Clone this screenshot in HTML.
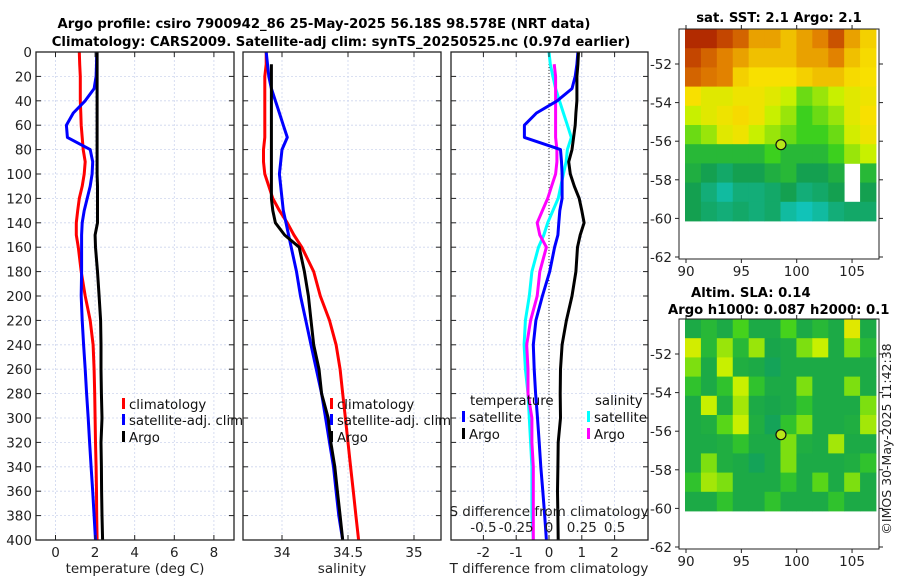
<!DOCTYPE html>
<html><head><meta charset="utf-8"><style>
body{margin:0;background:#fff;}
svg{display:block;font-family:"DejaVu Sans","Liberation Sans",sans-serif;}
</style></head><body>
<svg id="chart" width="900" height="580" viewBox="0 0 900 580" xmlns="http://www.w3.org/2000/svg">
<rect width="900" height="580" fill="#fff"/>
<g id="titles" font-weight="bold" font-size="13.2" fill="#000">
<text x="324" y="28" text-anchor="middle">Argo profile: csiro 7900942_86 25-May-2025 56.18S 98.578E (NRT data)</text>
<text x="341" y="46" text-anchor="middle">Climatology: CARS2009. Satellite-adj clim: synTS_20250525.nc (0.97d earlier)</text>
<text x="779" y="22" text-anchor="middle">sat. SST: 2.1 Argo: 2.1</text>
<text x="691" y="297">Altim. SLA: 0.14</text>
<text x="668" y="314">Argo h1000: 0.087 h2000: 0.1</text>
</g>
<g id="plots"></g>
<text x="0" y="0" font-size="12.5" fill="#222" text-anchor="middle" transform="translate(891,439) rotate(-90)">©IMOS 30-May-2025 11:42:38</text>
</svg>
<script>
const depths=[0,10,20,30,40,50,60,70,80,90,100,110,120,130,140,150,160,180,200,220,240,260,280,300,320,340,360,380,400];
const tempClim=[1.2,1.22,1.25,1.25,1.25,1.28,1.3,1.35,1.4,1.5,1.45,1.35,1.2,1.12,1.05,1.05,1.15,1.3,1.5,1.75,1.9,1.95,1.98,2.0,2.02,2.05,2.07,2.08,2.1];
const tempSat=[2.08,2.07,2.05,1.95,1.5,0.9,0.55,0.6,1.75,1.88,1.85,1.75,1.6,1.45,1.35,1.32,1.32,1.32,1.3,1.35,1.42,1.5,1.57,1.65,1.72,1.8,1.88,1.95,2.02];
const tempArgo=[2.1,2.1,2.1,2.1,2.1,2.1,2.1,2.1,2.1,2.1,2.1,2.12,2.12,2.12,2.12,2.0,2.02,2.12,2.2,2.28,2.3,2.3,2.32,2.35,2.3,2.32,2.33,2.35,2.38];
const salClim=[33.88,33.88,33.87,33.87,33.87,33.87,33.87,33.87,33.86,33.86,33.87,33.9,33.93,33.98,34.04,34.09,34.15,34.24,34.29,34.36,34.41,34.44,34.46,34.48,34.5,34.52,34.54,34.56,34.58];
const salSat=[33.88,33.89,33.9,33.92,33.95,33.98,34.01,34.04,34.0,33.99,33.98,33.99,34.0,34.01,34.03,34.05,34.07,34.11,34.14,34.18,34.22,34.26,34.3,34.33,34.36,34.39,34.41,34.43,34.46];
const salArgo=[null,33.92,33.92,33.92,33.92,33.92,33.92,33.92,33.92,33.92,33.92,33.92,33.92,33.93,33.95,34.02,34.13,34.17,34.2,34.22,34.24,34.28,34.3,34.35,34.37,34.4,34.42,34.44,34.46];
const depthTicks=[0,20,40,60,80,100,120,140,160,180,200,220,240,260,280,300,320,340,360,380,400];
const tempTicks=[0,2,4,6,8];
const salTicks=[34,34.5,35];
const tdiffTicks=[-2,-1,0,1,2];
const sdiffTicks=[-0.5,-0.25,0,0.25,0.5];
const sdiffLabels=["-0.5","-0.25","0","0.25","0.5"];
const latTicks=[-52,-54,-56,-58,-60,-62];
const lonTicks=[90,95,100,105];
const sstGrid=[
[0.95,0.95,0.9,0.85,0.75,0.75,0.7,0.75,0.8,0.88,0.75,0.65],
[0.9,0.85,0.8,0.75,0.7,0.7,0.7,0.75,0.75,0.8,0.7,0.62],
[0.85,0.82,0.8,0.65,0.6,0.6,0.6,0.65,0.7,0.7,0.62,0.6],
[0.6,0.55,0.55,0.58,0.58,0.55,0.5,0.4,0.45,0.5,0.55,0.58],
[0.5,0.55,0.58,0.62,0.58,0.5,0.45,0.35,0.4,0.45,0.55,0.6],
[0.4,0.45,0.55,0.58,0.5,0.45,0.4,0.35,0.35,0.4,0.52,0.58],
[0.3,0.3,0.3,0.3,0.3,0.35,0.3,0.3,0.3,0.35,0.45,0.5],
[0.28,0.25,0.22,0.25,0.25,0.28,0.3,0.25,0.25,0.28,null,0.3],
[0.25,0.2,0.15,0.2,0.2,0.22,0.25,0.2,0.22,0.25,null,0.25],
[0.25,0.22,0.2,0.22,0.2,0.22,0.15,0.12,0.15,0.2,0.22,0.22]];
const slaGrid=[
[0.27,0.3,0.27,0.36,0.27,0.27,0.36,0.27,0.3,0.27,0.55,0.27],
[0.52,0.3,0.45,0.3,0.45,0.26,0.27,0.42,0.5,0.27,0.42,0.3],
[0.42,0.27,0.5,0.28,0.27,0.24,0.27,0.27,0.27,0.27,0.27,0.27],
[0.32,0.27,0.32,0.5,0.32,0.27,0.27,0.42,0.27,0.27,0.42,0.27],
[0.27,0.5,0.28,0.46,0.27,0.26,0.27,0.32,0.27,0.27,0.27,0.42],
[0.27,0.28,0.38,0.5,0.28,0.24,0.32,0.42,0.27,0.27,0.28,0.46],
[0.27,0.27,0.28,0.32,0.27,0.27,0.42,0.28,0.27,0.46,0.27,0.27],
[0.27,0.42,0.28,0.27,0.24,0.27,0.42,0.27,0.27,0.27,0.28,0.32],
[0.32,0.46,0.42,0.27,0.27,0.27,0.32,0.27,0.38,0.27,0.42,0.27],
[0.27,0.27,0.32,0.27,0.27,0.32,0.27,0.27,0.27,0.32,0.27,0.27]];
const floatLon=98.578, floatLat=-56.18;

const NS="http://www.w3.org/2000/svg";
const root=document.getElementById('plots');
function mk(tag,attrs,parent){const e=document.createElementNS(NS,tag);for(const k in attrs)e.setAttribute(k,attrs[k]);(parent||root).appendChild(e);return e;}
function txt(s,attrs,parent){const e=mk('text',attrs,parent);e.textContent=s;return e;}

const Y0=52,Y1=540;
const yD=d=>Y0+(d/400)*(Y1-Y0);
const panels=[{x0:36,x1:234},{x0:243,x1:441},{x0:451,x1:648}];
const xT=v=>55.5+19.8*v;
const xS=v=>282+132*(v-34);
const xTd=v=>549+32.8*v;
const xSd=v=>549+131.2*v;
const GRID='#cdd5ee';

function line(vals,xf,color,name,w){
  let d='';let started=false;
  vals.forEach((v,i)=>{if(v===null||isNaN(v))return;d+=(started?'L':'M')+xf(v).toFixed(1)+','+yD(depths[i]).toFixed(1);started=true;});
  const p=mk('path',{d:d,fill:'none',stroke:color,'stroke-width':w||3,'stroke-linejoin':'round'});
  
  
}
function frame(p,xticks,xf,ylabels,name){
  const g=mk('g',{});
  
  
  depthTicks.forEach(d=>{mk('line',{x1:p.x0,x2:p.x1,y1:yD(d),y2:yD(d),stroke:GRID,'stroke-width':0.8,'stroke-dasharray':'2,2'},g);});
  xticks.forEach(t=>{mk('line',{x1:xf(t),x2:xf(t),y1:Y0,y2:Y1,stroke:GRID,'stroke-width':0.8,'stroke-dasharray':'2,2'},g);});
  return g;
}
function border(p,xticks,xf,xlabels,ylabels){
  const g=mk('g',{});
  
  
  mk('rect',{x:p.x0,y:Y0,width:p.x1-p.x0,height:Y1-Y0,fill:'none',stroke:'#222','stroke-width':1.3},g);
  depthTicks.forEach(d=>{
    mk('line',{x1:p.x0,x2:p.x0+5,y1:yD(d),y2:yD(d),stroke:'#222'},g);
    mk('line',{x1:p.x1-5,x2:p.x1,y1:yD(d),y2:yD(d),stroke:'#222'},g);
    if(ylabels){const t=txt(String(d),{x:p.x0-4,y:yD(d)+5,'font-size':13.5,'text-anchor':'end',fill:'#222'},g);
      
      }
  });
  xticks.forEach((t,i)=>{
    mk('line',{x1:xf(t),x2:xf(t),y1:Y1-5,y2:Y1,stroke:'#222'},g);
    mk('line',{x1:xf(t),x2:xf(t),y1:Y0,y2:Y0+5,stroke:'#222'},g);
    const l=txt(xlabels?xlabels[i]:String(t),{x:xf(t),y:557,'font-size':13.5,'text-anchor':'middle',fill:'#222'},g);
    
    
  });
}
frame(panels[0],tempTicks,xT,true,'temperature-grid');
line(tempClim,xT,'#ff0000','temp-climatology-line');
line(tempSat,xT,'#0000ff','temp-satellite-line');
line(tempArgo,xT,'#000000','temp-argo-line');
border(panels[0],tempTicks,xT,null,true);
frame(panels[1],salTicks,xS,false,'salinity-grid');
line(salClim,xS,'#ff0000','sal-climatology-line');
line(salSat,xS,'#0000ff','sal-satellite-line');
line(salArgo,xS,'#000000','sal-argo-line');
border(panels[1],salTicks,xS,null,false);
frame(panels[2],tdiffTicks,xTd,false,'difference-grid');
mk('line',{x1:xTd(0),x2:xTd(0),y1:Y0,y2:Y1,stroke:'#333','stroke-width':1,'stroke-dasharray':'1,2'});
const sdSat=salSat.map((v,i)=>v===null?null:v-salClim[i]);
const sdArgo=salArgo.map((v,i)=>v===null?null:v-salClim[i]);
const tdSat=tempSat.map((v,i)=>v-tempClim[i]);
const tdArgo=tempArgo.map((v,i)=>v-tempClim[i]);
line(sdSat,xSd,'#00ffff','sdiff-satellite-line');
line(sdArgo,xSd,'#ff00ff','sdiff-argo-line');
line(tdSat,xTd,'#0000ff','tdiff-satellite-line');
line(tdArgo,xTd,'#000000','tdiff-argo-line');
border(panels[2],tdiffTicks,xTd,null,false);
sdiffTicks.forEach((t,i)=>{const l=txt(sdiffLabels[i],{x:xSd(t),y:532,'font-size':13.5,'text-anchor':'middle',fill:'#222'});
  
  });
const sl=txt('S difference from climatology',{x:549,y:516,'font-size':13.5,'text-anchor':'middle',fill:'#222'});



[['temperature (deg C)',135,'temperature-axis-title'],['salinity',342,'salinity-axis-title'],['T difference from climatology',549,'t-diff-axis-title']].forEach(a=>{
  const t=txt(a[0],{x:a[1],y:573,'font-size':13.5,'text-anchor':'middle',fill:'#222'});
  
  
});
function legend(x,y,color,label){
  const g=mk('g',{});
  
  
  mk('rect',{x:x,y:y-11,width:3,height:11,fill:color},g);
  txt(label,{x:x+7,y:y,'font-size':13.3,fill:'#111'},g);
}
legend(122,409,'#ff0000','climatology');legend(122,425,'#0000ff','satellite-adj. clim');legend(122,442,'#000000','Argo');
legend(330,409,'#ff0000','climatology');legend(330,425,'#0000ff','satellite-adj. clim');legend(330,442,'#000000','Argo');
const lh1=txt('temperature',{x:470,y:405,'font-size':13.3,fill:'#111'});


const lh2=txt('salinity',{x:595,y:405,'font-size':13.3,fill:'#111'});


legend(462,422,'#0000ff','satellite');legend(462,439,'#000000','Argo');
legend(587,422,'#00ffff','satellite');legend(587,439,'#ff00ff','Argo');

const cstops=[[0.1,[16,200,200]],[0.25,[20,160,80]],[0.35,[60,208,30]],[0.5,[200,240,0]],[0.6,[248,224,0]],[0.7,[240,192,0]],[0.8,[226,130,0]],[0.9,[196,70,0]],[1.0,[160,16,0]]];
function cmap(v){
  if(v<=cstops[0][0])return 'rgb('+cstops[0][1]+')';
  for(let i=1;i<cstops.length;i++){if(v<=cstops[i][0]){const a=cstops[i-1],b=cstops[i];const f=(v-a[0])/(b[0]-a[0]);
    return 'rgb('+a[1].map((c,k)=>Math.round(c+(b[1][k]-c)*f)).join(',')+')';}}
  return 'rgb('+cstops[cstops.length-1][1]+')';
}
function drawMap(grid,fy0,name,cellName){
  const fx0=679,fx1=879,fy1=fy0+230;
  const lonX=v=>686+(v-90)*11.07;
  const latY=v=>fy0+35+(-52-v)*19.3;
  const dataTop=fy0, dataBot=fy0+192, dataL=685, dataR=876;
  const g=mk('g',{});
  
  
  const rows=grid.length, cols=grid[0].length;
  const cw=(dataR-dataL)/cols, ch=(dataBot-dataTop)/rows;
  grid.forEach((row,r)=>row.forEach((v,c)=>{
    if(v===null)return;
    const cell=mk('rect',{x:(dataL+c*cw).toFixed(2),y:(dataTop+r*ch).toFixed(2),width:(cw+0.4).toFixed(2),height:(ch+0.4).toFixed(2),fill:cmap(v)},g);
    
    
  }));
  mk('rect',{x:fx0,y:fy0,width:fx1-fx0,height:fy1-fy0,fill:'none',stroke:'#222','stroke-width':1},g);
  latTicks.forEach(t=>{const y=latY(t);
    mk('line',{x1:fx0-4,x2:fx0,y1:y,y2:y,stroke:'#222'},g);
    mk('line',{x1:fx1,x2:fx1+4,y1:y,y2:y,stroke:'#222'},g);
    const l=txt(String(t),{x:fx0-7,y:y+5,'font-size':13.5,'text-anchor':'end',fill:'#222'},g);
    
    
  });
  lonTicks.forEach(t=>{const x=lonX(t);
    mk('line',{x1:x,x2:x,y1:fy1,y2:fy1+4,stroke:'#222'},g);
    mk('line',{x1:x,x2:x,y1:fy0-4,y2:fy0,stroke:'#222'},g);
    const l=txt(String(t),{x:x,y:fy1+17,'font-size':13.5,'text-anchor':'middle',fill:'#222'},g);
    
    
  });
  const m=mk('circle',{cx:lonX(floatLon),cy:latY(floatLat),r:5,fill:'#b8e61a',stroke:'#111','stroke-width':1.2},g);
  
  
}
drawMap(sstGrid,29,'sst-map','sst-cell');
drawMap(slaGrid,319,'sla-map','sla-cell');
</script>
</body></html>
